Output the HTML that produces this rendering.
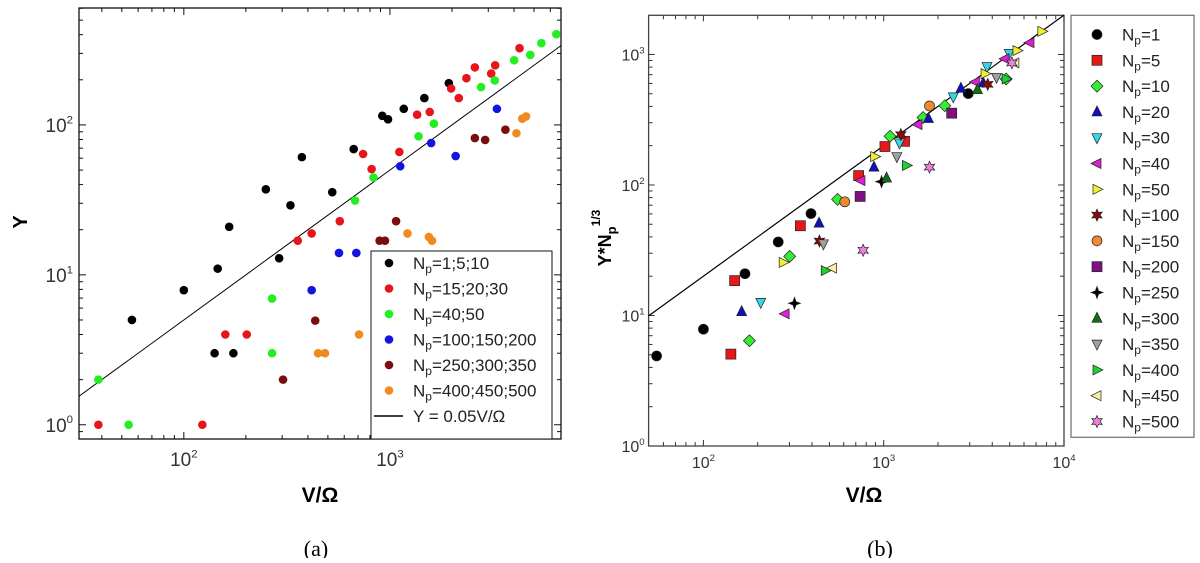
<!DOCTYPE html>
<html><head><meta charset="utf-8"><style>
body{margin:0;background:#fff;width:1200px;height:558px;overflow:hidden}
svg{font-family:"Liberation Sans","DejaVu Sans",sans-serif}
</style></head><body>
<svg id="s" width="1200" height="558" viewBox="0 0 1200 558" xmlns="http://www.w3.org/2000/svg">
<g id="pa"></g>
<g id="pb"></g>
<text x="316" y="556" font-family="Liberation Serif,serif" font-size="22" text-anchor="middle">(a)</text>
<text x="880" y="556" font-family="Liberation Serif,serif" font-size="22" text-anchor="middle">(b)</text>
</svg>
<script>
// ---------- Panel A data ----------
const aNames=["1;5;10","15;20;30","40;50","100;150;200","250;300;350","400;450;500"];
const aColors=["#000000","#e8141c","#22ee22","#1414e0","#7a0e0e","#f08a20"];
const aBlackX=[56,100,141,146,166,174,250,290,329,374,525,667,918,979,1167,1469,1931];
const aBlackY=[5,7.9,3,11,20.9,3,37.2,12.9,29.1,61,35.6,69,115,109,128,151,190];
const aRedX=[38.5,123,159,202,357,417,571,741,815,1111,1355,1560,1981,2158,2350,2582,3100,3240,4255];
const aRedY=[1,1,4,4,16.9,18.9,22.8,64,50.8,66,117,122,175,151,205,242,220,250,325];
const aGreenX=[38.5,54,268,268,677,832,1377,1634,2768,3224,4006,4797,5430,6415];
const aGreenY=[2,1,6.95,3,31.3,44.6,84,102,179,198,270,293,351,403];
const aBlueX=[417,566,687,1122,1585,2084,3304];
const aBlueY=[7.9,14,14,53,75.7,62,128];
const aDarkX=[303,434,891,946,1071,2582,2897,3633];
const aDarkY=[2,4.95,16.9,16.9,22.8,81.7,79.4,93];
const aOrangeX=[448,484,708,1217,1545,1600,4110,4385,4576];
const aOrangeY=[3,3,4,18.9,17.9,16.9,88,110,114];
const aTickX=[2,3];const aTickY=[0,1,2];
// ---------- Panel B data ----------
const bNames=["1","5","10","20","30","40","50","100","150","200","250","300","350","400","450","500"];
const bColors=["#000","#e81818","#33ee33","#1010c0","#30d8e8","#e020d0","#f0f030","#8a0a0a","#f08a30","#801080","#000","#107010","#a0a0a0","#20d030","#f8f0a0","#f080e0"];
const bShapes=["circle","square","diamond","up","down","left","right","star","circle","square","cross","up","down","right","left","star"];
const bX=[[55,100,170,260,395,2943],[142,149,345,726,1016,1305],[180,301,555,1084,1652,2183,4775],[163,438,883,1770,2681,3564],[208,1224,2432,3740,4968],[284,748,1549,3228,4710,6475],[277,891,3647,5486,7534],[440,1245,3776],[608,1795],[740,2383],[320,973],[1037,3311],[463,1183,4224],[474,1336,4775],[520,5342],[769,1795,5140]];
const bY=[[4.9,7.85,20.9,36.6,60.4,501],[5.06,18.5,48.7,118,197,216],[6.4,28.4,77.6,236,329,405,649],[10.7,51,137,323,551,606],[12.6,210,473,807,1019],[10.3,108,290,616,927,1230],[25.5,165,713,1071,1503],[37.2,243,590],[74.3,403],[81.7,355],[12.4,106],[113,537],[35.4,165,668],[22.1,141,650],[23.1,861],[31.6,137,861]];
const bTickX=[2,3,4];const bTickY=[0,1,2,3];

const NS="http://www.w3.org/2000/svg";
function mk(p,t,a){const e=document.createElementNS(NS,t);for(const k in a)e.setAttribute(k,a[k]);p.appendChild(e);return e;}
function expLabel(g,x,y,e,size,anchor){const t=mk(g,'text',{x:x,y:y,'font-size':size,'text-anchor':anchor,fill:'#333'});
 t.appendChild(document.createTextNode('10'));const s=mk(t,'tspan',{dy:-size*0.45,'font-size':size*0.6});s.textContent=e;return t;}

// ----- Panel A -----
(function(){
const g=document.getElementById('pa');
const L=79,R=561,T=8,B=439;const lx0=Math.log10(31),lx1=3.83,ly0=-0.095,ly1=2.78;
const sx=v=>L+(Math.log10(v)-lx0)/(lx1-lx0)*(R-L);
const sy=v=>B-(Math.log10(v)-ly0)/(ly1-ly0)*(B-T);
const fr=mk(g,'rect',{x:L,y:T,width:R-L,height:B-T,fill:'none',stroke:'#111','stroke-width':1.3});

for(let d=1;d<=4;d++)for(let m=1;m<10;m++){const v=m*Math.pow(10,d);const x=sx(v);if(x<L||x>R)continue;const len=m==1?7:4;
 mk(g,'line',{x1:x,x2:x,y1:B,y2:B-len,stroke:'#111'});mk(g,'line',{x1:x,x2:x,y1:T,y2:T+len,stroke:'#111'});}
for(let d=-1;d<=2;d++)for(let m=1;m<10;m++){const v=m*Math.pow(10,d);const y=sy(v);if(y<T||y>B)continue;const len=m==1?7:4;
 mk(g,'line',{x1:L,x2:L+len,y1:y,y2:y,stroke:'#111'});mk(g,'line',{x1:R,x2:R-len,y1:y,y2:y,stroke:'#111'});}
aTickX.forEach(e=>{const t=expLabel(g,sx(Math.pow(10,e)),466,e,19,'middle');});
aTickY.forEach(e=>{const t=expLabel(g,L-6,sy(Math.pow(10,e))+7,e,19,'end');});
// line
const ln=mk(g,'line',{x1:sx(31),y1:sy(0.05*31),x2:R,y2:sy(0.05*Math.pow(10,lx1)),stroke:'#000','stroke-width':1});

const xs=[aBlackX,aRedX,aGreenX,aBlueX,aDarkX,aOrangeX],ys=[aBlackY,aRedY,aGreenY,aBlueY,aDarkY,aOrangeY];
xs.forEach((arr,i)=>{const sg=mk(g,'g',{fill:aColors[i]});
 arr.forEach((v,j)=>{const c=mk(sg,'circle',{cx:sx(v),cy:sy(ys[i][j]),r:4.3});
 
 });});
// legend
const lg=mk(g,'g',{});
mk(lg,'rect',{x:371,y:251,width:181,height:188,fill:'#fff',stroke:'#111','stroke-width':1});
aNames.forEach((n,i)=>{const y=263+i*25.5;mk(lg,'circle',{cx:389,cy:y,r:4.3,fill:aColors[i]});
 const t=mk(lg,'text',{x:413,y:y+6,'font-size':17,fill:'#222'});
 t.appendChild(document.createTextNode('N'));const s=mk(t,'tspan',{dy:4,'font-size':12});s.textContent='p';const s2=mk(t,'tspan',{dy:-4});s2.textContent='='+n;});
mk(lg,'line',{x1:374,x2:403,y1:416,y2:416,stroke:'#000','stroke-width':1.5});
const tl=mk(lg,'text',{x:413,y:422,'font-size':17,fill:'#222'});tl.textContent='Y = 0.05V/Ω';
const yl=mk(g,'text',{x:0,y:0,'font-size':20,'font-weight':'bold','text-anchor':'middle',transform:'translate(27,222) rotate(-90)'});yl.textContent='Y';

const xl=mk(g,'text',{x:320,y:502,'font-size':21,'font-weight':'bold','text-anchor':'middle'});xl.textContent='V/Ω';

})();

// ----- Panel B -----
(function(){
const g=document.getElementById('pb');
const L=648.6,R=1064,T=15.3,B=446;const lx0=1.696,lx1=4.0,ly0=0,ly1=3.30;
const sx=v=>L+(Math.log10(v)-lx0)/(lx1-lx0)*(R-L);
const sy=v=>B-(Math.log10(v)-ly0)/(ly1-ly0)*(B-T);
const fr=mk(g,'rect',{x:L,y:T,width:R-L,height:B-T,fill:'none',stroke:'#444','stroke-width':1.3});

for(let d=1;d<=4;d++)for(let m=1;m<10;m++){const v=m*Math.pow(10,d);const x=sx(v);if(x<L+1||x>R)continue;const len=m==1?6:4;
 mk(g,'line',{x1:x,x2:x,y1:B,y2:B-len,stroke:'#333'});mk(g,'line',{x1:x,x2:x,y1:T,y2:T+len,stroke:'#333'});}
for(let d=0;d<=3;d++)for(let m=1;m<10;m++){const v=m*Math.pow(10,d);const y=sy(v);if(y<T||y>B-1)continue;const len=m==1?6:4;
 mk(g,'line',{x1:L,x2:L+len,y1:y,y2:y,stroke:'#333'});mk(g,'line',{x1:R,x2:R-len,y1:y,y2:y,stroke:'#333'});}
bTickX.forEach(e=>{const t=expLabel(g,sx(Math.pow(10,e)),468,e,16,'middle');});
bTickY.forEach(e=>{const t=expLabel(g,L-4,sy(Math.pow(10,e))+6,e,16,'end');});
const ln=mk(g,'line',{x1:L,y1:sy(0.2*Math.pow(10,lx0)),x2:R,y2:sy(0.2*Math.pow(10,lx1)),stroke:'#000','stroke-width':1.2});

function marker(p,shape,x,y,col){const r=5,a={fill:col,stroke:'#222','stroke-width':0.7};let e;
 if(shape=='circle')e=mk(p,'circle',Object.assign({cx:x,cy:y,r:r},a));
 else if(shape=='square')e=mk(p,'rect',Object.assign({x:x-r,y:y-r,width:2*r,height:2*r},a));
 else{let pts;
  if(shape=='diamond')pts=[[0,-r-1],[r+1,0],[0,r+1],[-r-1,0]];
  else if(shape=='up')pts=[[0,-r-1],[r,r-1],[-r,r-1]];
  else if(shape=='down')pts=[[0,r+1],[r,-r+1],[-r,-r+1]];
  else if(shape=='left')pts=[[-r-1,0],[r-1,-r],[r-1,r]];
  else if(shape=='right')pts=[[r+1,0],[-r+1,-r],[-r+1,r]];
  else if(shape=='star'){pts=[];for(let k=0;k<12;k++){const an=k*Math.PI/6-Math.PI/2;const rr=k%2?r*0.6:r+1;pts.push([rr*Math.cos(an),rr*Math.sin(an)]);}}
  else {pts=[];for(let k=0;k<8;k++){const an=k*Math.PI/4-Math.PI/2;const rr=k%2?r*0.45:r+1;pts.push([rr*Math.cos(an),rr*Math.sin(an)]);}}
  e=mk(p,'polygon',Object.assign({points:pts.map(q=>(x+q[0])+','+(y+q[1])).join(' ')},a));}
 return e;}
bX.forEach((arr,i)=>{const sg=mk(g,'g',{});
 arr.forEach((v,j)=>{const m=marker(sg,bShapes[i],sx(v),sy(bY[i][j]),bColors[i]);
 
 });});
const lg=mk(g,'g',{});
mk(lg,'rect',{x:1071,y:15.3,width:123,height:422,fill:'#fff',stroke:'#777','stroke-width':1.3});
bNames.forEach((n,i)=>{const y=34.5+i*25.8;marker(lg,bShapes[i],1097,y,bColors[i]);
 const t=mk(lg,'text',{x:1122,y:y+6,'font-size':17,fill:'#222'});
 t.appendChild(document.createTextNode('N'));const s=mk(t,'tspan',{dy:4,'font-size':12});s.textContent='p';const s2=mk(t,'tspan',{dy:-4});s2.textContent='='+n;});
const yl=mk(g,'text',{x:0,y:0,'font-size':18,'font-weight':'bold','text-anchor':'middle',transform:'translate(611,238) rotate(-90)'});
yl.appendChild(document.createTextNode('Y*N'));const ys1=mk(yl,'tspan',{dy:5,'font-size':13});ys1.textContent='p';const ys2=mk(yl,'tspan',{dy:-16,'font-size':12});ys2.textContent='1/3';

const xl=mk(g,'text',{x:864,y:502,'font-size':21,'font-weight':'bold','text-anchor':'middle'});xl.textContent='V/Ω';

})();
</script>
</body></html>
